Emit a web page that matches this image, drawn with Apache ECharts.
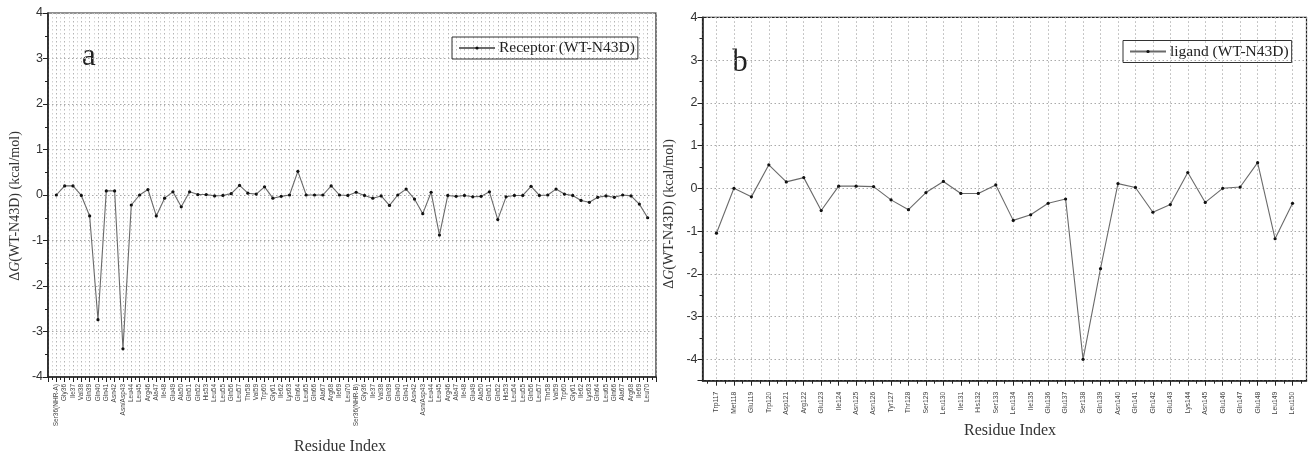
<!DOCTYPE html>
<html>
<head>
<meta charset="utf-8">
<script src="https://cdn.jsdelivr.net/npm/echarts@6/dist/echarts.min.js"></script>
<style>
html,body{margin:0;padding:0;background:#fff;}
#c{width:1308px;height:457px;}
</style>
</head>
<body>
<div id="c"></div>
<script>
// ---- Panel a: receptor residues ----
const catsA = [
  "Ser36(NHR-A)","Gly36","Ile37","Val38","Gln39","Gln40","Gln41","Asn42","Asn/Asp43","Leu44","Leu45","Arg46","Ala47","Ile48","Glu49","Ala50","Gln51","Gln52","His53","Leu54","Leu55","Gln56","Leu57","Thr58","Val59","Trp60","Gly61","Ile62","Lys63","Gln64","Leu65","Gln66","Ala67","Arg68","Ile69","Leu70",
  "Ser36(NHR-B)","Gly36","Ile37","Val38","Gln39","Gln40","Gln41","Asn42","Asn/Asp43","Leu44","Leu45","Arg46","Ala47","Ile48","Glu49","Ala50","Gln51","Gln52","His53","Leu54","Leu55","Gln56","Leu57","Thr58","Val59","Trp60","Gly61","Ile62","Lys63","Gln64","Leu65","Gln66","Ala67","Arg68","Ile69","Leu70"
];
const valuesA = [
  0, 0.2, 0.2, -0.01, -0.46, -2.74, 0.09, 0.09, -3.38, -0.22, 0.0, 0.12, -0.46, -0.07, 0.07, -0.26, 0.07, 0.01, 0.01, -0.02, -0.01, 0.03, 0.21, 0.04, 0.02, 0.18, -0.07, -0.03, 0.0, 0.52, 0.0, 0.0, 0.0, 0.2, 0.0, -0.01,
  0.06, -0.01, -0.07, -0.02, -0.23, 0.0, 0.13, -0.09, -0.41, 0.06, -0.88, -0.01, -0.03, -0.01, -0.04, -0.03, 0.07, -0.54, -0.04, -0.01, -0.01, 0.19, -0.01, 0.0, 0.13, 0.02, -0.01, -0.12, -0.16, -0.05, -0.02, -0.05, 0.0, -0.02, -0.2, -0.5
];
const nameA = "Receptor (WT-N43D)";

// ---- Panel b: ligand residues ----
const catsB = ["Trp117","Met118","Glu119","Trp120","Asp121","Arg122","Glu123","Ile124","Asn125","Asn126","Tyr127","Thr128","Ser129","Leu130","Ile131","His132","Ser133","Leu134","Ile135","Glu136","Glu137","Ser138","Gln139","Asn140","Gln141","Gln142","Glu143","Lys144","Asn145","Glu146","Gln147","Glu148","Leu149","Leu150"];
const valuesB = [-1.05, 0.0, -0.2, 0.55, 0.15, 0.25, -0.52, 0.05, 0.05, 0.04, -0.27, -0.5, -0.1, 0.16, -0.12, -0.12, 0.08, -0.75, -0.62, -0.35, -0.25, -4.0, -1.88, 0.11, 0.02, -0.56, -0.38, 0.37, -0.33, 0.0, 0.03, 0.6, -1.18, -0.35];
const nameB = "ligand (WT-N43D)";

const chart = echarts.init(document.getElementById('c'), null, {renderer: 'canvas'});

const sans = "'Liberation Sans', Arial, sans-serif";
const serif = "'Liberation Serif', 'Times New Roman', serif";
const dotted = {type: [1.5, 2.5], color: '#b5b5b5', width: 1};
const dottedMinor = {type: [1.5, 2.5], color: '#d2d2d2', width: 1};

const posBMinor = [0.5].concat(catsB.map((_, i) => i + 1.5));

const seriesStyle = {
  type: 'line', symbol: 'circle', symbolSize: 3.2,
  itemStyle: {color: '#111'}, lineStyle: {color: '#6a6a6a', width: 1.1},
  emphasis: {disabled: true}, z: 5
};

const yName = function(x, y) {
  return {
    type: 'text', x: x, y: y, rotation: Math.PI / 2,
    style: {
      text: '{n|Δ}{i|G}{n|(WT-N43D) (kcal/mol)}',
      align: 'center', verticalAlign: 'middle',
      rich: {
        n: {fontFamily: serif, fontSize: 14, fill: '#333'},
        i: {fontFamily: serif, fontSize: 14, fontStyle: 'italic', fill: '#333'}
      }
    }
  };
};

const legendBase = {
  orient: 'horizontal', itemWidth: 36, itemHeight: 4, itemGap: 5,
  padding: [3, 3, 3, 6], borderColor: '#333', borderWidth: 1,
  textStyle: {fontFamily: serif, fontSize: 15.5, color: '#222', padding: [0, 0, 0, -1]}
};

chart.setOption({
  animation: false,
  backgroundColor: '#fff',
  grid: [
    {left: 48, top: 13, width: 608, height: 364, show: true, borderColor: '#222', borderWidth: 1.2},
    {left: 702.5, top: 17.3, width: 604, height: 363.4, show: true, borderColor: '#222', borderWidth: 1.2}
  ],
  xAxis: [
    {
      gridIndex: 0, type: 'value', min: 0, max: catsA.length + 1, interval: 1,
      axisLine: {onZero: false, lineStyle: {color: '#222', width: 1.6}},
      axisTick: {length: 5, lineStyle: {color: '#222'}},
      minorTick: {show: true, splitNumber: 2, length: 3, lineStyle: {color: '#222'}},
      splitLine: {show: true, lineStyle: dotted},
      minorSplitLine: {show: true, lineStyle: dottedMinor},
      axisLabel: {
        rotate: 90, fontSize: 6.5, fontFamily: sans, color: '#444', margin: 7,
        formatter: v => (v >= 1 && v <= catsA.length) ? catsA[v - 1] : ''
      }
    },
    {
      gridIndex: 1, type: 'value', position: 'bottom', min: 0.2, max: catsB.length + 0.8, splitNumber: catsB.length,
      axisLine: {onZero: false, lineStyle: {color: '#222', width: 1.6}},
      axisTick: {length: 5, lineStyle: {color: '#222'}},
      splitLine: {show: true, lineStyle: dotted},
      axisLabel: {
        rotate: 90, fontSize: 6.8, fontFamily: sans, color: '#444', margin: 11,
        showMinLabel: false, showMaxLabel: false,
        formatter: v => (Math.abs(v - Math.round(v)) < 1e-6 ? (catsB[Math.round(v) - 1] || '') : '')
      }
    },
    {
      gridIndex: 1, type: 'value', position: 'bottom', min: 0.2, max: catsB.length + 0.8,
      axisLine: {show: false, onZero: false},
      axisTick: {length: 3, customValues: posBMinor, lineStyle: {color: '#222'}},
      splitLine: {show: false},
      axisLabel: {show: false}
    }
  ],
  yAxis: [
    {
      gridIndex: 0, type: 'value', min: -4, max: 4, interval: 1,
      axisLine: {show: true, lineStyle: {color: '#222', width: 1.6}},
      axisTick: {show: true, length: 5, lineStyle: {color: '#222'}},
      minorTick: {show: true, splitNumber: 2, length: 3, lineStyle: {color: '#222'}},
      splitLine: {show: true, lineStyle: {type: [1.5, 2.5], color: '#aaa', width: 1}},
      axisLabel: {fontSize: 12.5, fontFamily: sans, color: '#333', margin: 5}
    },
    {
      gridIndex: 1, type: 'value', min: -4.5, max: 4, splitNumber: 8,
      axisLine: {show: true, lineStyle: {color: '#222', width: 1.6}},
      axisTick: {show: true, length: 5, lineStyle: {color: '#222'}},
      minorTick: {show: true, splitNumber: 2, length: 3, lineStyle: {color: '#222'}},
      splitLine: {show: true, lineStyle: {type: [1.5, 2.5], color: '#aaa', width: 1}},
      axisLabel: {fontSize: 12.5, fontFamily: sans, color: '#333', margin: 5, showMinLabel: false}
    }
  ],
  legend: [
    Object.assign({}, legendBase, {data: [nameA], left: 452, top: 37}),
    Object.assign({}, legendBase, {data: [nameB], left: 1123, top: 40.5})
  ],
  series: [
    Object.assign({}, seriesStyle, {
      name: nameA, xAxisIndex: 0, yAxisIndex: 0,
      data: valuesA.map((v, i) => [i + 1, v])
    }),
    Object.assign({}, seriesStyle, {
      name: nameB, xAxisIndex: 1, yAxisIndex: 1,
      data: valuesB.map((v, i) => [i + 1, v])
    })
  ],
  graphic: [
    {type: 'text', x: 89, y: 57, style: {text: 'a', fontFamily: serif, fontSize: 31, fill: '#222', align: 'center', verticalAlign: 'middle'}},
    {type: 'text', x: 740, y: 63, style: {text: 'b', fontFamily: serif, fontSize: 31, fill: '#222', align: 'center', verticalAlign: 'middle'}},
    {type: 'text', x: 340, y: 447, style: {text: 'Residue Index', fontFamily: serif, fontSize: 16, fill: '#333', align: 'center', verticalAlign: 'middle'}},
    {type: 'text', x: 1010, y: 431, style: {text: 'Residue Index', fontFamily: serif, fontSize: 16, fill: '#333', align: 'center', verticalAlign: 'middle'}},
    yName(15, 206),
    yName(669, 214)
  ]
});
</script>
</body>
</html>
